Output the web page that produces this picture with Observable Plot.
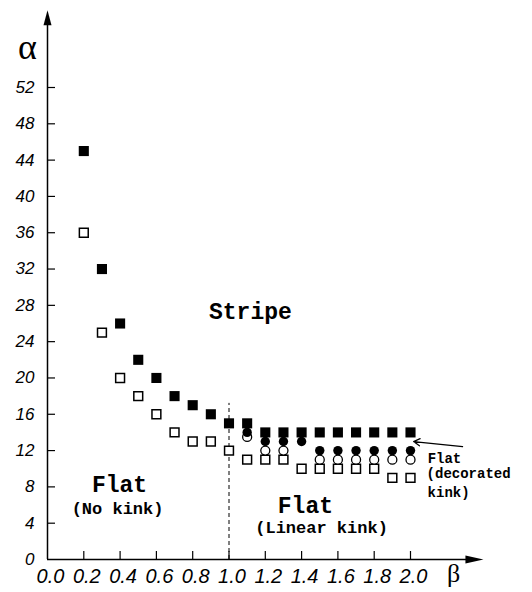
<!DOCTYPE html>
<html><head><meta charset="utf-8">
<script src="https://cdn.jsdelivr.net/npm/d3@7"></script>
<script src="https://cdn.jsdelivr.net/npm/@observablehq/plot@0.6"></script>
<style>body{margin:0;background:#fff}</style>
</head><body><div id="chart"></div>
<script>
// ---- data ----
const filledSquareBeta  = [0.2,0.3,0.4,0.5,0.6,0.7,0.8,0.9,1.0,1.1,1.2,1.3,1.4,1.5,1.6,1.7,1.8,1.9,2.0];
const filledSquareAlpha = [45, 32, 26, 22, 20, 18, 17, 16, 15, 15, 14, 14, 14, 14, 14, 14, 14, 14, 14];
const openSquareBeta    = [0.2,0.3,0.4,0.5,0.6,0.7,0.8,0.9,1.0,1.1,1.2,1.3,1.4,1.5,1.6,1.7,1.8,1.9,2.0];
const openSquareAlpha   = [36, 25, 20, 18, 16, 14, 13, 13, 12, 11, 11, 11, 10, 10, 10, 10, 10, 9, 9];
const filledCircleBeta  = [1.1,1.2,1.3,1.4,1.5,1.6,1.7,1.8,1.9,2.0];
const filledCircleAlpha = [14, 13, 13, 13, 12, 12, 12, 12, 12, 12];
const openCircleBeta    = [1.1,1.2,1.3,1.5,1.6,1.7,1.8,1.9,2.0];
const openCircleAlpha   = [13.5,12,12, 11, 11, 11, 11, 11, 11];
const xTicks = [0,0.2,0.4,0.6,0.8,1.0,1.2,1.4,1.6,1.8,2.0];
const yTicks = [0,4,8,12,16,20,24,28,32,36,40,44,48,52];
const criticalBeta = 1.0;

const zip = (xs, ys) => xs.map((x, i) => ({x, y: ys[i]}));
const filledSquares = zip(filledSquareBeta, filledSquareAlpha);
const openSquares = zip(openSquareBeta, openSquareAlpha);
const filledCircles = zip(filledCircleBeta, filledCircleAlpha);
const openCircles = zip(openCircleBeta, openCircleAlpha);

// ---- layout ----
const W = 532, H = 592, ML = 47, MR = 122, MT = 87, MB = 33;
const kx = (W - ML - MR) / 2, ky = (H - MT - MB) / 52;
const tickLen = 8;

const big = [
  {x: 1.118, y: 27.3, text: "Stripe", w: 95, size: 23},
  {x: 0.397, y: 8.2, text: "Flat", w: 64, size: 23},
  {x: 1.421, y: 5.9, text: "Flat", w: 64, size: 23}
];
const small = [
  {x: 0.386, y: 5.6, text: "(No kink)", w: 114, size: 17},
  {x: 1.51, y: 3.5, text: "(Linear kink)", w: 168, size: 17},
  {x: 2.187, y: 11.1, text: "Flat", w: 42, size: 14},
  {x: 2.32, y: 9.45, text: "(decorated", w: 110, size: 14},
  {x: 2.21, y: 7.35, text: "kink)", w: 46, size: 14}
];
const labels = big.concat(small);

const arrowHeadX = {draw(c) { c.moveTo(0,0); c.lineTo(-18,-4); c.lineTo(-18,4); c.closePath(); }};
const arrowHeadY = {draw(c) { c.moveTo(0,0); c.lineTo(-4,15); c.lineTo(4,15); c.closePath(); }};
const xEnd = 2.402, yEnd = 60.5;

const chart = Plot.plot({
  width: W, height: H,
  marginLeft: ML, marginRight: MR, marginTop: MT, marginBottom: MB,
  x: {domain: [0, 2]},
  y: {domain: [0, 52]},
  style: {background: "white", color: "black", overflow: "visible"},
  marks: [
    Plot.axisX(xTicks, {tickSize: 0, tickPadding: 9, tickFormat: d => d.toFixed(1), fontSize: 20, fontStyle: "italic", fontFamily: "Liberation Sans", dx: 3, label: null}),
    Plot.axisY(yTicks, {tickSize: 0, tickPadding: 13, fontSize: 17, fontStyle: "italic", fontFamily: "Liberation Sans", label: null}),
    Plot.ruleX(xTicks.filter(d => d > 0), {x: d => d, y1: 0, y2: tickLen / ky, strokeWidth: 1.2}),
    Plot.ruleY(yTicks.filter(d => d > 0), {y: d => d, x1: 0, x2: tickLen / kx, strokeWidth: 1.2}),
    Plot.ruleY([0], {x1: 0, x2: xEnd - 10 / kx, strokeWidth: 1.5}),
    Plot.ruleX([0], {y1: 0, y2: yEnd - 8 / ky, strokeWidth: 1.5}),
    Plot.dot([{x: xEnd, y: 0}], {x: "x", y: "y", symbol: arrowHeadX, fill: "black", stroke: null}),
    Plot.dot([{x: 0, y: yEnd}], {x: "x", y: "y", symbol: arrowHeadY, fill: "black", stroke: null}),
    Plot.ruleX([criticalBeta], {y1: 0, y2: 17.2, strokeDasharray: "4,3", strokeWidth: 1}),
    Plot.dot(openSquares, {x: "x", y: "y", symbol: "square", r: 5, stroke: "black", strokeWidth: 1.5, fill: "white"}),
    Plot.dot(openCircles, {x: "x", y: "y", symbol: "circle", r: 4.5, stroke: "black", strokeWidth: 1.3, fill: "white"}),
    Plot.dot(filledCircles, {x: "x", y: "y", symbol: "circle", r: 4.7, fill: "black", stroke: null}),
    Plot.dot(filledSquares, {x: "x", y: "y", symbol: "square", r: 5.7, fill: "black", stroke: null}),
    Plot.text(labels, {x: "x", y: "y", text: "text", fontSize: d => d.size, fontFamily: "Liberation Mono", fontWeight: "bold", textAnchor: "middle", lineAnchor: "middle", fill: "black", ariaLabel: "region-label"}),
    Plot.arrow([{x1: 2.287, y1: 12.44, x2: 2.017, y2: 12.99}], {x1: "x1", y1: "y1", x2: "x2", y2: "y2", headLength: 9, strokeWidth: 1.2, stroke: "black"}),
    Plot.text(["α"], {x: -0.11, y: 56.4, text: d => d, fontSize: 36, fontFamily: "Liberation Serif", lineAnchor: "middle", fill: "black"}),
    Plot.text(["β"], {x: 2.237, y: -1.6, text: d => d, fontSize: 26, fontFamily: "Liberation Serif", lineAnchor: "middle", fill: "black"})
  ]
});

d3.select(chart).selectAll('g[aria-label="region-label"] text').each(function(_, i) {
  this.setAttribute("font-size", labels[i].size);
  this.setAttribute("textLength", labels[i].w);
  this.setAttribute("lengthAdjust", "spacingAndGlyphs");
});
document.getElementById("chart").appendChild(chart);
</script>
</body></html>
